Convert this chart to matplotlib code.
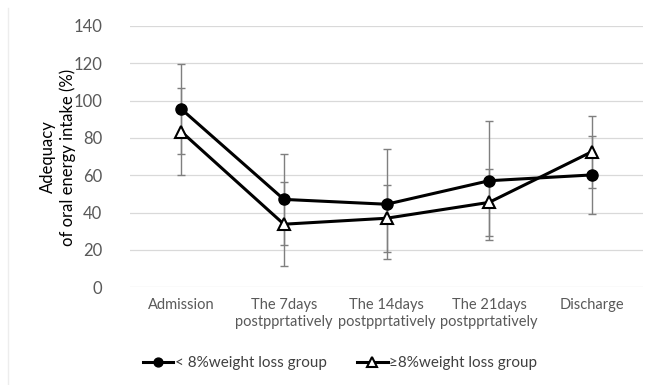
import matplotlib.pyplot as plt
from matplotlib.lines import Line2D

plt.rcParams['font.family'] = ['Lato', 'DejaVu Sans']

categories = ['Admission', 'The 7days\npostpprtatively', 'The 14days\npostpprtatively',
              'The 21days\npostpprtatively', 'Discharge']
low_mean = [95.5, 47.1, 44.5, 57.1, 60.2]
low_sd = [24.2, 24.2, 29.5, 31.9, 20.7]
high_mean = [83.4, 33.8, 37.0, 45.5, 72.6]
high_sd = [23.4, 22.4, 17.9, 17.9, 19.3]
yticks = [0, 20, 40, 60, 80, 100, 120, 140]

fig = plt.figure(figsize=(6.55, 3.85), dpi=100)
ax = fig.add_axes([130 / 655, 1 - 287.3 / 385, 513 / 655, 261.3 / 385])

x = list(range(len(categories)))

# error bars first, grey
ax.errorbar(x, low_mean, yerr=low_sd, fmt='none', ecolor='#7f7f7f', elinewidth=1,
            capsize=3, capthick=1, zorder=2)
ax.errorbar(x, high_mean, yerr=high_sd, fmt='none', ecolor='#7f7f7f', elinewidth=1,
            capsize=3, capthick=1, zorder=2)

ax.plot(x, low_mean, color='black', lw=2.2, marker='o', markersize=8,
        markerfacecolor='black', markeredgecolor='black', zorder=3,
        label='< 8%weight loss group')
ax.plot(x, high_mean, color='black', lw=2.2, marker='^', markersize=9,
        markerfacecolor='white', markeredgecolor='black', markeredgewidth=1.5, zorder=4,
        label='≥8%weight loss group')

ax.set_xlim(-0.5, 4.5)
ax.set_ylim(0, 140)
ax.set_yticks(yticks)
ax.set_xticks(x)
ax.set_xticklabels(categories, fontsize=10.5, color='#595959', linespacing=1.2)
ax.tick_params(axis='y', labelsize=12, labelcolor='#595959', length=0, pad=20)
ax.tick_params(axis='x', length=0, pad=8)
ax.grid(axis='y', color='#d9d9d9', lw=0.9)
ax.set_axisbelow(True)
for s in ax.spines.values():
    s.set_visible(False)

fig.text(58 / 655, 1 - 157 / 385, 'Adequacy\nof oral energy intake (%)', rotation=90,
         ha='center', va='center', multialignment='center', fontsize=12, color='black',
         linespacing=1.2)

fig.legend(loc='center', bbox_to_anchor=(340 / 655, 1 - 363 / 385), ncol=2, frameon=False,
           fontsize=11, handlelength=2.0, handletextpad=0.1, columnspacing=2,
           labelcolor='#404040', markerscale=0.8)

# faint chart-area border on the left
fig.add_artist(Line2D([8 / 655, 8 / 655], [0, 1 - 8 / 385], color='#ededed', lw=1))

fig.savefig('out.png', dpi=100)
